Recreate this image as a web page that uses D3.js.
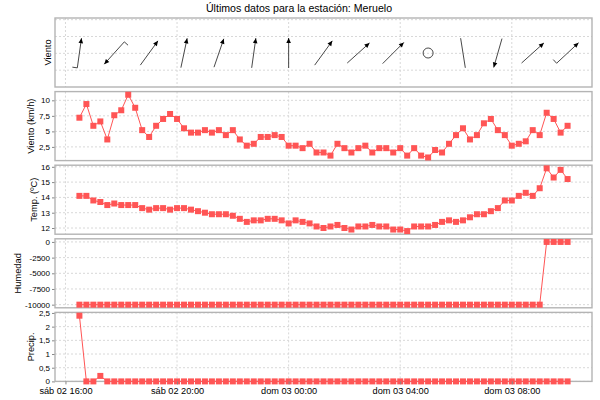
<!DOCTYPE html>
<html>
<head>
<meta charset="utf-8">
<script src="https://cdn.jsdelivr.net/npm/d3@7"></script>
<style>
  body { margin: 0; background: #fff; }
  text { font-family: "Liberation Sans", Arial, sans-serif; fill: #000; }
</style>
</head>
<body>
<svg id="chart" width="600" height="400"></svg>
<script>
// Station and reading times (one reading every 15 minutes)
var stationName = "Meruelo";
var firstReading = new Date(2019, 2, 2, 16, 30);
var readingMinutes = 15;
var dayNames = ["dom", "lun", "mar", "mié", "jue", "vie", "sáb"];

// Wind speed (km/h)
var windSpeed = [7.2, 9.4, 5.9, 6.6, 3.7, 7.6, 8.4, 10.9, 8.8, 5.2,
  4.1, 5.9, 7.0, 7.8, 7.0, 5.5, 4.8, 4.8, 5.2, 4.8,
  5.2, 4.4, 5.2, 3.7, 2.7, 3.0, 4.1, 4.1, 4.4, 4.1,
  2.7, 2.7, 2.3, 3.0, 1.6, 1.6, 1.1, 3.0, 2.3, 1.6,
  2.3, 2.7, 1.6, 2.3, 2.3, 1.6, 2.3, 1.1, 2.3, 1.1,
  0.8, 2.0, 1.6, 3.0, 4.4, 5.5, 3.7, 4.4, 6.3, 7.0,
  5.2, 4.4, 2.7, 3.0, 3.4, 5.2, 4.4, 8.0, 7.0, 4.8, 5.9];

// Temperature (ºC)
var temperature = [14.1, 14.1, 13.8, 13.7, 13.5, 13.6, 13.5, 13.5, 13.5, 13.3,
  13.2, 13.3, 13.3, 13.2, 13.3, 13.3, 13.2, 13.1, 13.0, 12.9,
  12.9, 12.9, 12.8, 12.6, 12.4, 12.5, 12.5, 12.6, 12.6, 12.5,
  12.3, 12.5, 12.4, 12.3, 12.1, 12.0, 12.1, 12.2, 12.0, 11.9,
  12.1, 12.1, 12.2, 12.1, 12.1, 11.9, 11.9, 11.8, 12.1, 12.1,
  12.1, 12.2, 12.4, 12.5, 12.4, 12.5, 12.7, 12.9, 12.9, 13.1,
  13.3, 13.8, 13.8, 14.1, 14.3, 14.1, 14.6, 15.9, 15.3, 15.8, 15.2];

// Humidity (-10000 = no reading)
var humidity = [-10000, -10000, -10000, -10000, -10000, -10000, -10000, -10000, -10000, -10000,
  -10000, -10000, -10000, -10000, -10000, -10000, -10000, -10000, -10000, -10000,
  -10000, -10000, -10000, -10000, -10000, -10000, -10000, -10000, -10000, -10000,
  -10000, -10000, -10000, -10000, -10000, -10000, -10000, -10000, -10000, -10000,
  -10000, -10000, -10000, -10000, -10000, -10000, -10000, -10000, -10000, -10000,
  -10000, -10000, -10000, -10000, -10000, -10000, -10000, -10000, -10000, -10000,
  -10000, -10000, -10000, -10000, -10000, -10000, -10000, 0, 0, 0, 0];

// Precipitation (mm)
var precip = [2.4, 0, 0, 0.2, 0, 0, 0, 0, 0, 0,
  0, 0, 0, 0, 0, 0, 0, 0, 0, 0,
  0, 0, 0, 0, 0, 0, 0, 0, 0, 0,
  0, 0, 0, 0, 0, 0, 0, 0, 0, 0,
  0, 0, 0, 0, 0, 0, 0, 0, 0, 0,
  0, 0, 0, 0, 0, 0, 0, 0, 0, 0,
  0, 0, 0, 0, 0, 0, 0, 0, 0, 0, 0];

// Wind direction arrows: reading index, heading (deg, null = calm), head and barb flags
var windIndex = [0, 5, 10, 15, 20, 25, 30, 35, 40, 45, 50, 55, 60, 65, 70];
var windDir = [8, 222, 36, 12, 19, 8, 0, 36, 48, 45, null, 171, 196, 48, 47];
var windHead = [1, 1, 1, 1, 1, 1, 1, 1, 1, 1, 0, 0, 1, 1, 1];
var windBarb = [1, 1, 0, 0, 0, 0, 0, 0, 0, 0, 0, 0, 0, 0, 1];

// Tick values
var windTicks = [1, 2, 3, 4];
var speedTicks = [2.5, 5, 7.5, 10];
var tempTicks = [12, 13, 14, 15, 16];
var humTicks = [0, -2500, -5000, -7500, -10000];
var precipTicks = [0, 0.5, 1, 1.5, 2, 2.5];

var times = windSpeed.map((d, i) => new Date(firstReading.getTime() + i * readingMinutes * 60000));

var svg = d3.select("svg#chart");
var left = 55, right = 592;
var panelTop = 18, panelH = 69, panelGap = 4.6;
var red = "#ff5555";
var gridColor = "#d8d8d8";

var es = d3.formatLocale({decimal: ",", thousands: ".", grouping: [3], currency: ["", "€"], minus: "-"});
var numFmt = es.format("~g");

// 5% margin either side of the time range
var span = times[times.length - 1] - times[0];
var x = d3.scaleTime()
  .domain([new Date(+times[0] - span * 0.05), new Date(+times[times.length - 1] + span * 0.05)])
  .range([left, right]);
var timeTicks = x.ticks(d3.timeHour.every(4));
var timeFmt = d => dayNames[d.getDay()] + " " + d3.timeFormat("%d %H:%M")(d);

svg.append("text")
  .attr("x", 299).attr("y", 12)
  .attr("text-anchor", "middle")
  .style("font-size", "10.6px")
  .text("Últimos datos para la estación: " + stationName);

function autoDomain(values, stickyZero) {
  var ext = d3.extent(values);
  var m = (ext[1] - ext[0]) * 0.05;
  var lo = ext[0] - m;
  if (stickyZero && ext[0] >= 0 && lo < 0) lo = 0;
  return [lo, ext[1] + m];
}

function makePanel(i, domain, ticks, label, showTicks) {
  var top = panelTop + i * (panelH + panelGap);
  var y = d3.scaleLinear().domain(domain).range([top + panelH, top]);
  var g = svg.append("g");

  // grid
  g.selectAll("line.hgrid").data(ticks).enter().append("line")
    .attr("x1", left).attr("x2", right)
    .attr("y1", d => y(d)).attr("y2", d => y(d))
    .attr("stroke", gridColor).attr("stroke-dasharray", "2,2");
  g.selectAll("line.vgrid").data(timeTicks).enter().append("line")
    .attr("x1", d => x(d)).attr("x2", d => x(d))
    .attr("y1", top).attr("y2", top + panelH)
    .attr("stroke", gridColor).attr("stroke-dasharray", "2,2");

  var labelX = left - 4;
  if (showTicks) {
    var ax = g.append("g")
      .attr("transform", "translate(" + left + ",0)")
      .call(d3.axisLeft(y).tickValues(ticks).tickSize(3).tickPadding(2).tickFormat(numFmt));
    ax.select(".domain").remove();
    ax.selectAll("line").attr("stroke", "#888");
    ax.selectAll("text").style("font-size", "8px").attr("font-family", null);
    labelX = ax.node().getBBox().x + left - 4.5;
  }

  g.append("text")
    .attr("transform", "translate(" + labelX + "," + (top + panelH / 2) + ") rotate(-90)")
    .attr("text-anchor", "middle")
    .style("font-size", "9.3px")
    .text(label);

  g.append("rect")
    .attr("x", left).attr("y", top)
    .attr("width", right - left).attr("height", panelH)
    .attr("fill", "none").attr("stroke", "#b4b4b4").attr("stroke-width", 1.4);

  return {g: g, y: y, top: top};
}

function drawSeries(panel, values) {
  var line = d3.line().x((d, i) => x(times[i])).y(d => panel.y(d));
  panel.g.append("path")
    .attr("d", line(values))
    .attr("fill", "none").attr("stroke", red).attr("stroke-width", 1);
  panel.g.selectAll("rect.pt").data(values).enter().append("rect")
    .attr("class", "pt")
    .attr("x", (d, i) => x(times[i]) - 3)
    .attr("y", d => panel.y(d) - 3)
    .attr("width", 6).attr("height", 6)
    .attr("fill", red);
}

// Wind direction panel
var windPanel = makePanel(0, [0, 4.1], windTicks, "Viento", false);
var arrowLen = 30, headLen = 5, headW = 2.3, barbLen = 5;
var cy = windPanel.y(2.02);
windIndex.forEach(function(idx, k) {
  var cx = x(times[idx]);
  var dir = windDir[k];
  if (dir === null) {
    windPanel.g.append("circle")
      .attr("cx", cx).attr("cy", cy).attr("r", 5)
      .attr("fill", "none").attr("stroke", "#333").attr("stroke-width", 0.9);
    return;
  }
  var a = dir * Math.PI / 180;
  var ux = Math.sin(a), uy = -Math.cos(a);
  var nx = Math.cos(a), ny = Math.sin(a);
  var tx = cx - ux * arrowLen / 2, ty = cy - uy * arrowLen / 2;
  var hx = cx + ux * arrowLen / 2, hy = cy + uy * arrowLen / 2;
  windPanel.g.append("line")
    .attr("x1", tx).attr("y1", ty).attr("x2", hx).attr("y2", hy)
    .attr("stroke", "#333").attr("stroke-width", 0.9);
  if (windHead[k]) {
    var bx = hx - ux * headLen, by = hy - uy * headLen;
    windPanel.g.append("path")
      .attr("d", "M" + hx + "," + hy + "L" + (bx + nx * headW) + "," + (by + ny * headW) +
        "L" + (bx - nx * headW) + "," + (by - ny * headW) + "Z")
      .attr("fill", "#000");
  }
  if (windBarb[k]) {
    windPanel.g.append("line")
      .attr("x1", tx).attr("y1", ty)
      .attr("x2", tx - nx * barbLen).attr("y2", ty - ny * barbLen)
      .attr("stroke", "#333").attr("stroke-width", 0.9);
  }
});

var speedPanel = makePanel(1, autoDomain(windSpeed), speedTicks, "Viento (km/h)", true);
drawSeries(speedPanel, windSpeed);

var tempPanel = makePanel(2, autoDomain(temperature), tempTicks, "Temp. (ºC)", true);
drawSeries(tempPanel, temperature);

var humPanel = makePanel(3, autoDomain(humidity), humTicks, "Humedad", true);
drawSeries(humPanel, humidity);

var precipPanel = makePanel(4, autoDomain(precip, true), precipTicks, "Precip.", true);
drawSeries(precipPanel, precip);

// Time axis under the last panel
var xAxis = svg.append("g")
  .attr("transform", "translate(0," + (precipPanel.top + panelH) + ")")
  .call(d3.axisBottom(x).tickValues(timeTicks).tickSize(3).tickPadding(3).tickFormat(timeFmt));
xAxis.select(".domain").remove();
xAxis.selectAll("line").attr("stroke", "#888");
xAxis.selectAll("text").style("font-size", "9.2px").attr("font-family", null);
</script>
</body>
</html>
